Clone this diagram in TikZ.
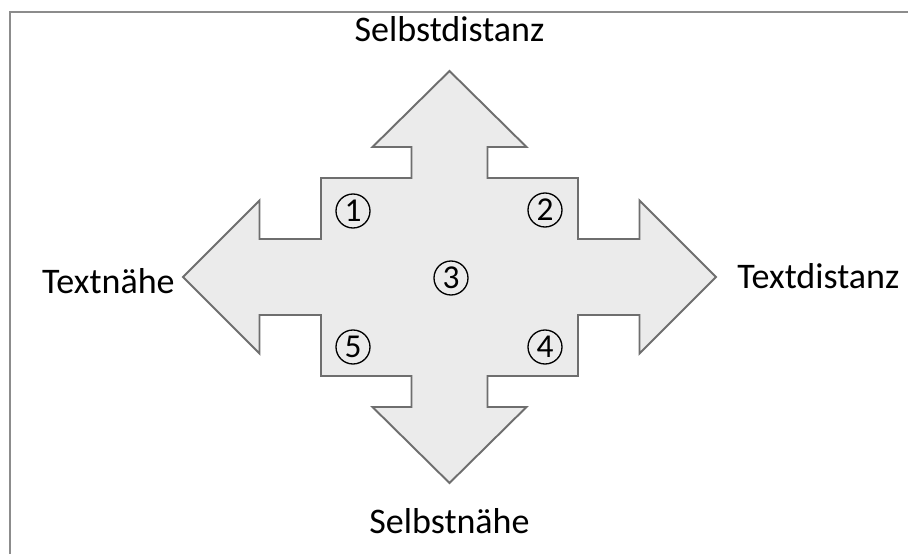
\documentclass[tikz,border=0pt]{standalone}
\usepackage{fontspec}
\setmainfont{Carlito}
\begin{document}
\begin{tikzpicture}[
    x=0.02cm, y=0.02cm,
    cross/.style={draw=black!57, fill=black!8, line width=1.1pt, line join=miter},
    pole/.style={inner sep=0pt, font=\fontsize{20.5}{24}\selectfont},
    zone/.style={circle, draw, line width=0.75pt, minimum size=0.68cm,
                 inner sep=0pt, font=\fontsize{19}{22}\selectfont}
]
\useasboundingbox (-449.5,-277) rectangle (458.5,277);
% frame
\draw[black!45, line width=0.9pt] (-439.5,-277) -- (-439.5,265) -- (458.5,265);

% four-way arrow
\draw[cross] (0,206) -- (77,130) -- (38,130) -- (38,99) -- (128.5,99)
    -- (128.5,38) -- (190,38) -- (190,76.5) -- (266.5,0) -- (190,-76.5)
    -- (190,-38) -- (128.5,-38) -- (128.5,-99) -- (38,-99) -- (38,-130)
    -- (77,-130) -- (0,-206) -- (-77,-130) -- (-38,-130) -- (-38,-99)
    -- (-128.5,-99) -- (-128.5,-38) -- (-190,-38) -- (-190,-76.5)
    -- (-266.5,0) -- (-190,76.5) -- (-190,38) -- (-128.5,38)
    -- (-128.5,99) -- (-38,99) -- (-38,130) -- (-77,130) -- cycle;

\node[pole, anchor=base] (sd) at (0,235) {Selbstdistanz};
\node[pole, anchor=base] (sn) at (0,-256) {Selbstnähe};
\node[pole, anchor=base east] (tn) at (-274.5,-16) {Textnähe};
\node[pole, anchor=base west] (td) at (287.5,-11) {Textdistanz};

\node[zone] (z1) at (-96.5,66) {1};
\node[zone] (z2) at (95.5,67) {2};
\node[zone] (z3) at (1.5,-1) {3};
\node[zone] (z4) at (95.5,-70) {4};
\node[zone] (z5) at (-96.5,-70) {5};
\end{tikzpicture}
\end{document}
